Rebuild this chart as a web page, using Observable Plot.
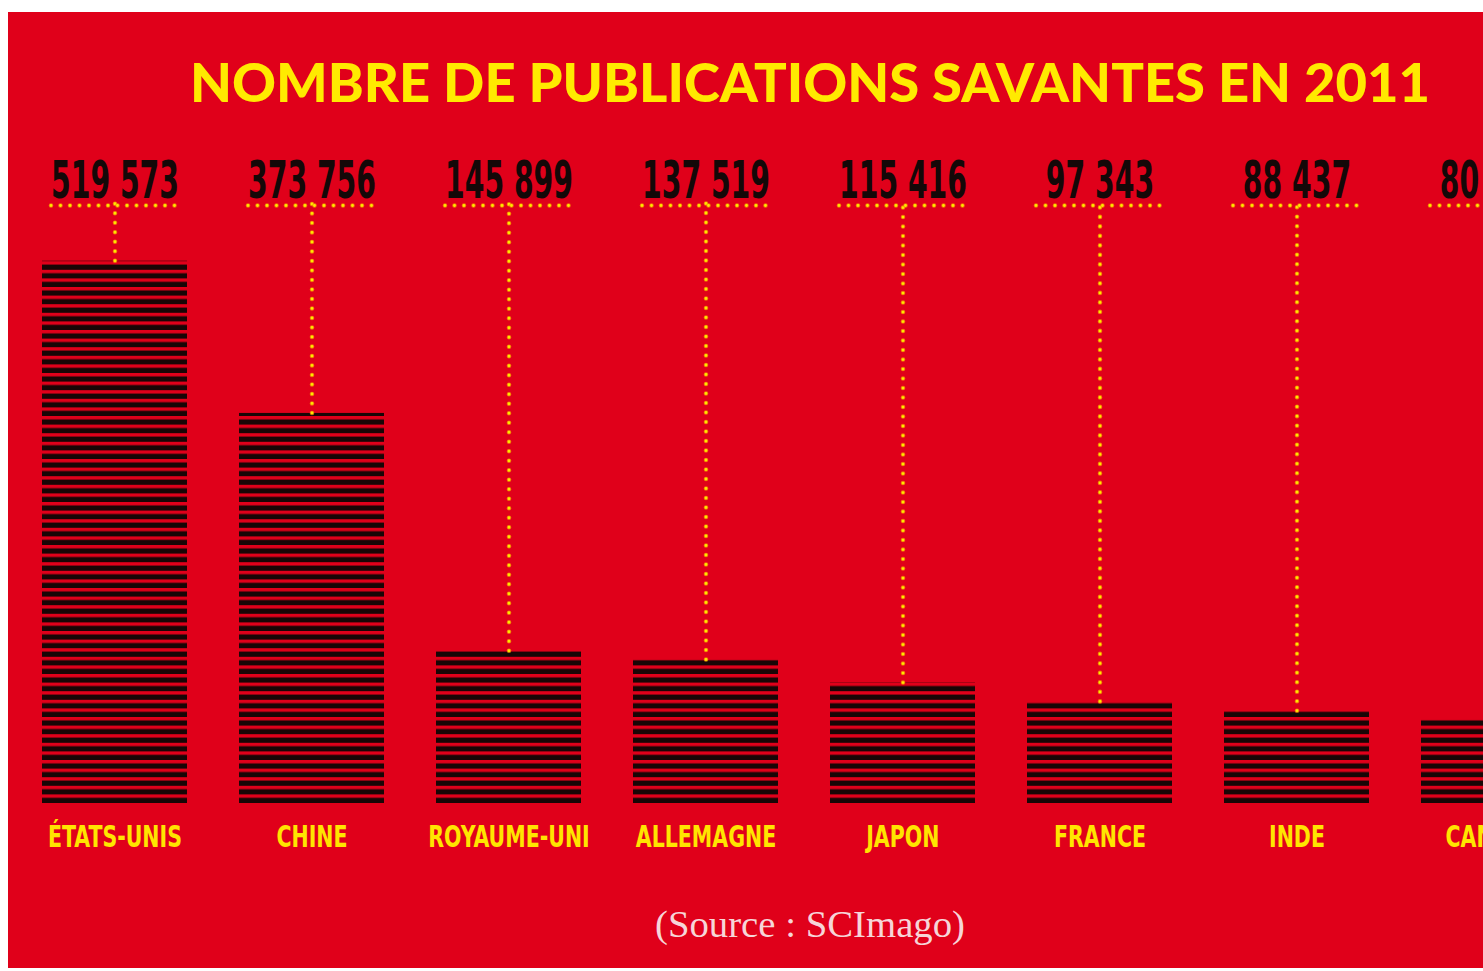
<!DOCTYPE html>
<html><head><meta charset="utf-8">
<script src="https://cdn.jsdelivr.net/npm/d3@7"></script>
<script src="https://cdn.jsdelivr.net/npm/@observablehq/plot@0.6"></script>
<style>
html,body{margin:0;padding:0;background:#fff;overflow:hidden;width:1483px;height:971px}
#card{position:absolute;left:8px;top:12px;width:1475px;height:956px;background:#e0001a;overflow:hidden}
#title,#source{position:absolute;left:0;top:0;overflow:visible}
#chart{position:absolute;left:0;top:130px;width:1600px}
#chart svg{max-width:none !important}
</style></head><body>
<div id="card">
  <svg id="title" width="1475" height="130">
    <text x="182" y="90" font-family="Lato, 'Open Sans', sans-serif" font-weight="900" font-size="54" fill="#ffea00" textLength="1240" lengthAdjust="spacingAndGlyphs">NOMBRE DE PUBLICATIONS SAVANTES EN 2011</text>
  </svg>
  <div id="chart"></div>
  <svg id="source" width="1475" height="956" style="pointer-events:none">
    <text x="802" y="925" text-anchor="middle" font-family="'Liberation Serif', 'DejaVu Serif', serif" font-size="38" fill="#f6d5d8" textLength="310" lengthAdjust="spacingAndGlyphs">(Source : SCImago)</text>
  </svg>
</div>
<script>
// Data
const countries = ["ÉTATS-UNIS", "CHINE", "ROYAUME-UNI", "ALLEMAGNE", "JAPON", "FRANCE", "INDE", "CANADA"];
const publications = [519573, 373756, 145899, 137519, 115416, 97343, 88437, 80138];

const frFormat = d3.formatLocale({decimal: ",", thousands: " ", grouping: [3], currency: ["", " €"]}).format(",d");
const rows = countries.map((c, i) => ({country: c, value: publications[i], label: frFormat(publications[i])}));

const YTOP = 573000; // top of the value axis, where the dotted leaders run
const numFont = "'Liberation Sans Narrow', 'DejaVu Sans Condensed', 'Liberation Sans', sans-serif";
const dots = {strokeDasharray: "0 9.5", strokeLinecap: "round"};

const plot = Plot.plot({
  width: 1600,
  height: 738,
  marginTop: 63,
  marginBottom: 77,
  marginLeft: 32,
  marginRight: 41,
  style: {background: "transparent", overflow: "visible", maxWidth: "none"},
  x: {domain: countries, axis: null, paddingInner: 0.265, paddingOuter: 0},
  y: {domain: [0, YTOP], axis: null},
  marks: [
    Plot.barY(rows, {x: "country", y: "value", fill: "url(#stripes)"}),
    Plot.ruleX(rows, {x: "country", y1: "value", y2: () => YTOP, insetBottom: 6, stroke: "#f59a00", strokeOpacity: 0.75, strokeWidth: 4.6, ...dots}),
    Plot.ruleX(rows, {x: "country", y1: "value", y2: () => YTOP, insetBottom: 6, stroke: "#ffe800", strokeWidth: 2.8, ...dots}),
    Plot.tickY(rows, {x: "country", y: () => YTOP, insetLeft: 9, insetRight: 9, stroke: "#f59a00", strokeOpacity: 0.75, strokeWidth: 4.6, ...dots}),
    Plot.tickY(rows, {x: "country", y: () => YTOP, insetLeft: 9, insetRight: 9, stroke: "#ffe800", strokeWidth: 2.8, ...dots}),
    Plot.text(rows, {x: "country", y: () => YTOP, text: "label", lineAnchor: "bottom", dy: -8, fontSize: 52, fontWeight: "bold", fontFamily: numFont, fill: "#140808"}),
    Plot.text(rows, {x: "country", y: () => 0, text: "country", lineAnchor: "top", dy: 22, fontSize: 30, fontWeight: "bold", fontFamily: numFont, fill: "#ffe500"})
  ]
});

document.getElementById("chart").appendChild(plot);

// striped fill anchored at the baseline
const y0 = plot.scale("y").apply(0);
const defs = d3.select(plot).insert("defs", ":first-child");
const pat = defs.append("pattern").attr("id", "stripes").attr("patternUnits", "userSpaceOnUse")
  .attr("x", 0).attr("y", y0).attr("width", 20).attr("height", 8.6);
pat.append("rect").attr("x", 0).attr("y", 3.4).attr("width", 20).attr("height", 5.2).attr("fill", "#180606");

// condense the label fonts horizontally
function squeeze(group, target) {
  const texts = group.querySelectorAll("text");
  const w = texts[0].getBBox().width;
  const s = target / w;
  texts.forEach(t => {
    const b = t.getBBox();
    const cx = b.x + b.width / 2;
    const tr = t.getAttribute("transform") || "";
    t.setAttribute("transform", `${tr} translate(${cx},0) scale(${s},1) translate(${-cx},0)`);
  });
}
const groups = plot.querySelectorAll('g[aria-label="text"]');
squeeze(groups[0], 128);
squeeze(groups[1], 134);
</script>
</body></html>
